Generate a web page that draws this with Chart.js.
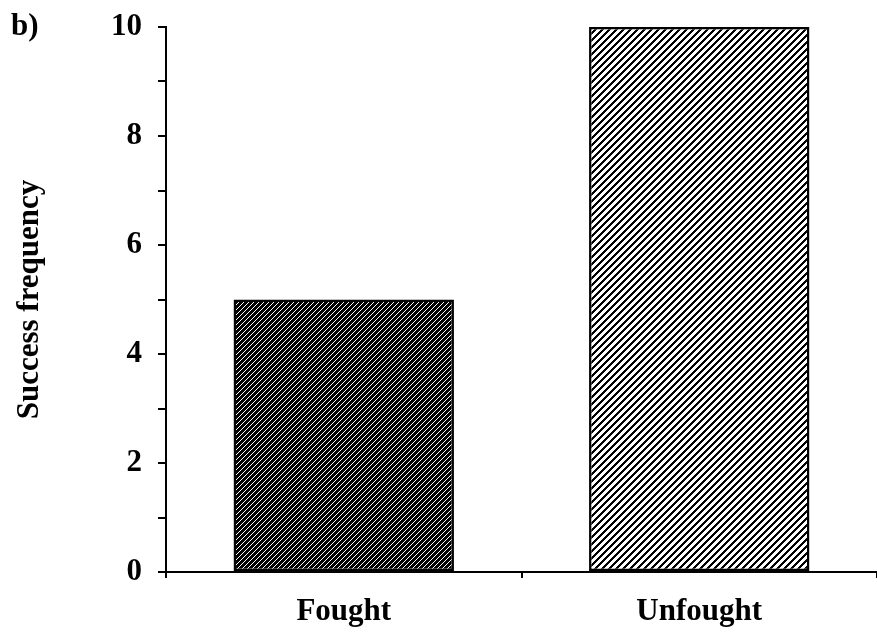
<!DOCTYPE html>
<html>
<head>
<meta charset="utf-8">
<title>Success frequency</title>
<script src="https://cdn.jsdelivr.net/npm/chart.js@4/dist/chart.umd.min.js"></script>
<style>
  body { margin: 0; background: #fff; }
  #wrap { width: 877px; height: 636px; }
</style>
</head>
<body>
<div id="wrap"><canvas id="myChart"></canvas></div>
<script>
const categories = ["Fought", "Unfought"];
const successFrequency = [5, 10];
const yLabelled = [0, 2, 4, 6, 8, 10];
const panelLabel = "b)";

const cxt = document.querySelector("#myChart");
const serif = "'Liberation Serif', 'Times New Roman', serif";

// crisp "/" hatch tile: pixel is fg where (x + y) mod size < width
function hatch(size, bg, fg, width) {
  const c = document.createElement("canvas");
  c.width = size;
  c.height = size;
  const g = c.getContext("2d");
  g.fillStyle = bg;
  g.fillRect(0, 0, size, size);
  g.fillStyle = fg;
  for (let y = 0; y < size; y++) {
    for (let x = 0; x < size; x++) {
      if ((x + y) % size < width) g.fillRect(x, y, 1, 1);
    }
  }
  return g.createPattern(c, "repeat");
}

const darkHatch = hatch(5, "#000", "#fff", 1);
const lightHatch = hatch(7, "#fff", "#000", 3);

const panelPlugin = {
  id: "panelLabel",
  afterDraw(chart) {
    const c = chart.ctx;
    c.save();
    c.font = "bold 31px " + serif;
    c.fillStyle = "#000";
    c.textBaseline = "alphabetic";
    c.fillText(panelLabel, 11, 35);
    c.restore();
  },
};

new Chart(cxt, {
  type: "bar",
  data: {
    labels: categories,
    datasets: [
      {
        data: successFrequency,
        backgroundColor: [darkHatch, lightHatch],
        borderColor: "#000",
        borderWidth: 2.5,
        borderSkipped: false,
        categoryPercentage: 1,
        barPercentage: 0.62,
      },
    ],
  },
  options: {
    responsive: true,
    maintainAspectRatio: false,
    animation: false,
    layout: { padding: { top: 27, right: 0, left: 0, bottom: 0 } },
    plugins: {
      legend: { display: false },
      tooltip: { enabled: false },
    },
    scales: {
      x: {
        offset: true,
        border: { color: "#000", width: 2 },
        grid: {
          offset: true,
          drawOnChartArea: false,
          color: "#000",
          lineWidth: 2,
          tickLength: 6,
        },
        ticks: {
          color: "#000",
          padding: 15,
          font: { family: serif, size: 31, weight: "bold" },
        },
        afterFit(scale) {
          scale.height = 64;
          scale.paddingLeft = 0;
          scale.paddingRight = 0;
        },
      },
      y: {
        min: 0,
        max: 10,
        border: { color: "#000", width: 2 },
        grid: {
          drawOnChartArea: false,
          color: "#000",
          lineWidth: 2,
          tickLength: 8,
        },
        ticks: {
          stepSize: 1,
          autoSkip: false,
          color: "#000",
          padding: 16,
          font: { family: serif, size: 31, weight: "bold" },
          callback: (v) => (yLabelled.includes(v) ? v : ""),
        },
        title: {
          display: true,
          text: "Success frequency",
          color: "#000",
          padding: { top: 11, bottom: 0 },
          font: { family: serif, size: 31, weight: "bold" },
        },
        afterFit(scale) {
          scale.width = 166;
          scale.paddingTop = 0;
          scale.paddingBottom = 0;
        },
      },
    },
  },
  plugins: [panelPlugin],
});
</script>
</body>
</html>
